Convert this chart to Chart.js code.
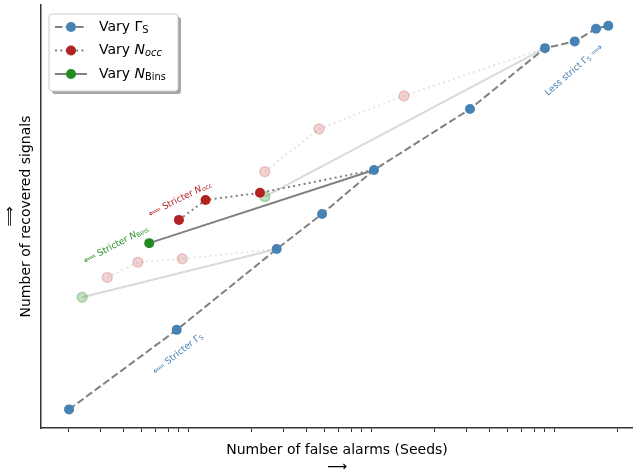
<!DOCTYPE html>
<html>
<head>
<meta charset="utf-8">
<script src="https://cdn.jsdelivr.net/npm/chart.js@4/dist/chart.umd.min.js"></script>
<style>
  body { margin: 0; overflow: hidden; background: #fff; }
</style>
</head>
<body>
<canvas id="myChart" width="633" height="480"></canvas>
<script>
// false alarms (x, log) vs recovered signals (y)
var gammaX = [20.1, 77.9, 274, 485, 932, 3119, 8012, 11645, 15222, 17773];
var gammaY = [4.4, 23.2, 42.3, 50.6, 61.0, 75.4, 89.8, 91.4, 94.4, 95.1];

var occX = [80.1, 112, 222, 932];
var occY = [49.2, 53.9, 55.6, 61.0];
var occLowX = [32.5, 47.8, 83.5, 274];
var occLowY = [35.6, 39.2, 40.0, 42.3];
var occHighX = [236, 467, 1359, 8012];
var occHighY = [60.6, 70.7, 78.5, 89.8];

var binsX = [55.1, 932];
var binsY = [43.7, 61.0];
var binsLowX = [23.7, 274];
var binsLowY = [30.9, 42.3];
var binsHighX = [236, 8012];
var binsHighY = [54.7, 89.8];

var xTicks = [20, 30, 40, 50, 60, 70, 80, 90,
  200, 300, 400, 500, 600, 700, 800, 900,
  2000, 3000, 4000, 5000, 6000, 7000, 8000, 9000, 20000];

var FONT = "'DejaVu Sans', sans-serif";
var BLUE = "#4682b4", RED = "#b22222", GREEN = "#228b22", GRAY = "#808080";

function pts(xs, ys) {
  return xs.map(function (x, i) { return { x: x, y: ys[i] }; });
}
// last point sits on the blue curve, no marker there
function radii(n) {
  var r = [];
  for (var i = 0; i < n; i++) r.push(i < n - 1 ? 5 : 0);
  return r;
}

// rich text: parts drawn in a row, centred on 0,0
function drawParts(ctx, parts, size, align) {
  var w = 0;
  parts.forEach(function (p) {
    var s = p.sub ? size * 0.7 : size;
    ctx.font = (p.it ? "italic " : "") + s + "px " + FONT;
    p.w = ctx.measureText(p.t).width;
    p.s = s;
    w += p.w;
  });
  var x = align === "left" ? 0 : -w / 2;
  parts.forEach(function (p) {
    ctx.font = (p.it ? "italic " : "") + p.s + "px " + FONT;
    ctx.fillText(p.t, x, p.sub ? size * 0.22 : 0);
    x += p.w;
  });
}

var notes = [
  { x: 36.3, y: 43.3, angle: 28, color: GREEN,
    parts: [{ t: "⟸ Stricter " }, { t: "N", it: true }, { t: "Bins", sub: true }] },
  { x: 81.2, y: 54.1, angle: 27, color: RED,
    parts: [{ t: "⟸ Stricter " }, { t: "N", it: true }, { t: "occ", it: true, sub: true }] },
  { x: 79.1, y: 17.5, angle: 38, color: BLUE,
    parts: [{ t: "⟸ Stricter Γ" }, { t: "S", sub: true }] },
  { x: 11544, y: 84.6, angle: 41, color: BLUE,
    parts: [{ t: "Less strict Γ" }, { t: "S", sub: true }, { t: " ⟹" }] }
];

var legendRows = [
  { dash: [7.4, 3.2], color: BLUE, parts: [{ t: "Vary Γ" }, { t: "S", sub: true }] },
  { dash: [2, 3.3], color: RED, parts: [{ t: "Vary " }, { t: "N", it: true }, { t: "occ", it: true, sub: true }] },
  { dash: [], color: GREEN, parts: [{ t: "Vary " }, { t: "N", it: true }, { t: "Bins", sub: true }] }
];

var extras = {
  id: "extras",
  afterDraw: function (chart) {
    var ctx = chart.ctx;
    var xs = chart.scales.x, ys = chart.scales.y;
    ctx.save();
    ctx.textBaseline = "middle";
    notes.forEach(function (n) {
      ctx.save();
      ctx.translate(xs.getPixelForValue(n.x), ys.getPixelForValue(n.y));
      ctx.rotate(-n.angle * Math.PI / 180);
      ctx.fillStyle = n.color;
      drawParts(ctx, n.parts, 9, "center");
      ctx.restore();
    });

    // legend box with shadow
    var bx = 49, by = 14, bw = 129, bh = 77;
    ctx.fillStyle = "rgba(0,0,0,0.35)";
    ctx.beginPath();
    ctx.roundRect(bx + 3, by + 3, bw, bh, 3);
    ctx.fill();
    ctx.fillStyle = "#fff";
    ctx.strokeStyle = "#cccccc";
    ctx.lineWidth = 1;
    ctx.beginPath();
    ctx.roundRect(bx, by, bw, bh, 3);
    ctx.fill();
    ctx.stroke();

    legendRows.forEach(function (r, i) {
      var y = 27 + i * 23.5;
      ctx.strokeStyle = GRAY;
      ctx.lineWidth = 2;
      ctx.setLineDash(r.dash);
      ctx.beginPath();
      ctx.moveTo(55, y);
      ctx.lineTo(87, y);
      ctx.stroke();
      ctx.setLineDash([]);
      ctx.fillStyle = r.color;
      ctx.beginPath();
      ctx.arc(71, y, 5, 0, Math.PI * 2);
      ctx.fill();
      ctx.save();
      ctx.translate(99, y);
      ctx.fillStyle = "#000";
      drawParts(ctx, r.parts, 14, "left");
      ctx.restore();
    });
    ctx.restore();
  }
};

var fadedRed = "rgba(178,34,34,0.2)", fadedGreen = "rgba(34,139,34,0.28)";

new Chart(document.getElementById("myChart"), {
  type: "line",
  data: {
    datasets: [
      {
        label: "Vary ΓS",
        data: pts(gammaX, gammaY),
        borderColor: GRAY, borderWidth: 2, borderDash: [7.4, 3.2],
        pointRadius: 5, pointBackgroundColor: BLUE, pointBorderColor: BLUE, pointBorderWidth: 0
      },
      {
        label: "Vary Nocc",
        data: pts(occX, occY),
        borderColor: GRAY, borderWidth: 2, borderDash: [2, 3.3],
        pointRadius: radii(occX.length), pointBackgroundColor: RED, pointBorderColor: RED, pointBorderWidth: 0
      },
      {
        label: "Vary NBins",
        data: pts(binsX, binsY),
        borderColor: GRAY, borderWidth: 2,
        pointRadius: radii(binsX.length), pointBackgroundColor: GREEN, pointBorderColor: GREEN, pointBorderWidth: 0
      },
      {
        data: pts(occLowX, occLowY),
        borderColor: "rgba(128,128,128,0.2)", borderWidth: 2, borderDash: [2, 3.3],
        pointRadius: radii(occLowX.length), pointBackgroundColor: fadedRed, pointBorderColor: fadedRed, pointBorderWidth: 1.5
      },
      {
        data: pts(occHighX, occHighY),
        borderColor: "rgba(128,128,128,0.2)", borderWidth: 2, borderDash: [2, 3.3],
        pointRadius: radii(occHighX.length), pointBackgroundColor: fadedRed, pointBorderColor: fadedRed, pointBorderWidth: 1.5
      },
      {
        data: pts(binsLowX, binsLowY),
        borderColor: "rgba(128,128,128,0.3)", borderWidth: 2,
        pointRadius: radii(binsLowX.length), pointBackgroundColor: fadedGreen, pointBorderColor: fadedGreen, pointBorderWidth: 1.5
      },
      {
        data: pts(binsHighX, binsHighY),
        borderColor: "rgba(128,128,128,0.3)", borderWidth: 2,
        pointRadius: radii(binsHighX.length), pointBackgroundColor: fadedGreen, pointBorderColor: fadedGreen, pointBorderWidth: 1.5
      }
    ]
  },
  options: {
    responsive: false,
    animation: false,
    devicePixelRatio: 1,
    layout: { autoPadding: false, padding: { top: 5, right: 0, left: 0, bottom: 0 } },
    plugins: { legend: { display: false }, tooltip: { enabled: false } },
    scales: {
      x: {
        type: "logarithmic",
        min: 14.12, max: 24250,
        afterBuildTicks: function (scale) {
          scale.ticks = xTicks.map(function (v) { return { value: v }; });
        },
        ticks: { display: false },
        grid: { drawOnChartArea: false, drawTicks: true, tickLength: 4, tickColor: "#333", tickWidth: 1 },
        border: { display: true, color: "#333", width: 1.5 },
        title: {
          display: true,
          text: ["Number of false alarms (Seeds)", "⟶"],
          color: "#000",
          font: { family: FONT, size: 14 },
          padding: { top: 9.8, bottom: 4.6 }
        }
      },
      y: {
        min: 0, max: 100,
        ticks: { display: false },
        grid: { display: false, drawTicks: false },
        border: { display: true, color: "#333", width: 1.5 },
        title: {
          display: true,
          text: ["⟹", "Number of recovered signals"],
          color: "#000",
          font: { family: FONT, size: 14 },
          padding: { top: 1.6, bottom: 5.8 }
        }
      }
    }
  },
  plugins: [extras]
});
</script>
</body>
</html>
